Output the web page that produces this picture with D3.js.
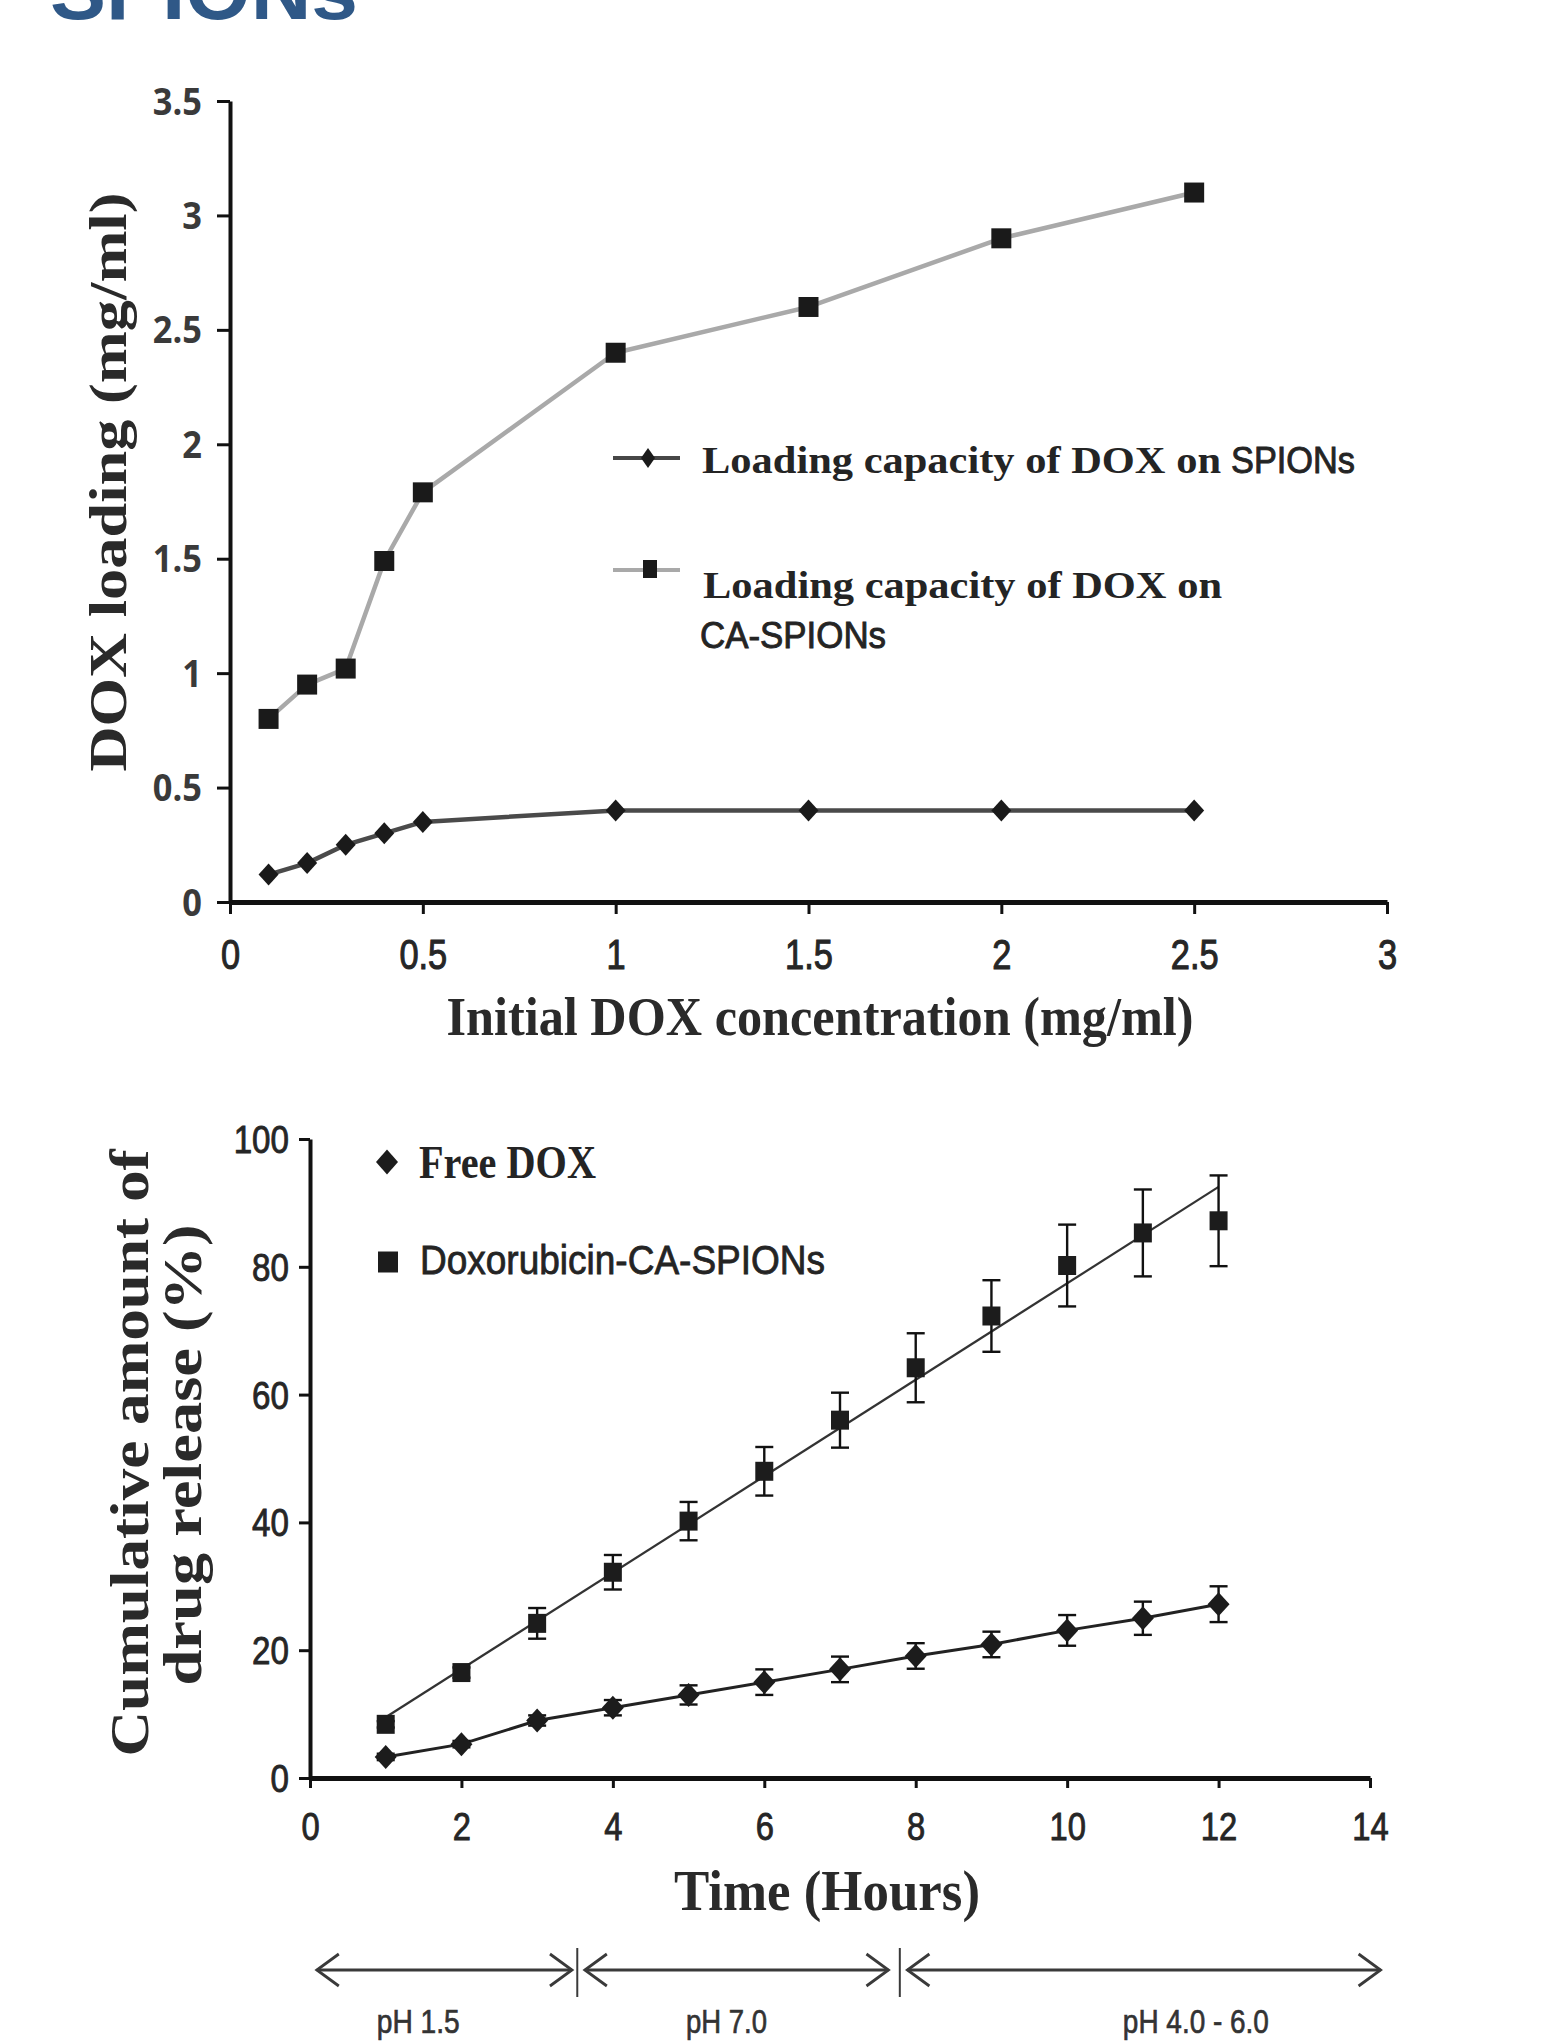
<!DOCTYPE html>
<html><head><meta charset="utf-8">
<script src="https://cdn.jsdelivr.net/npm/d3@7"></script>
<style>html,body{margin:0;padding:0;background:#fff;} svg{display:block;}</style>
</head><body><svg id="c" width="1562" height="2044"></svg>
<script>
// ---------------- DATA: top chart (DOX loading) ----------------
const concX = [0.1, 0.2, 0.3, 0.4, 0.5, 1, 1.5, 2, 2.5];
const loadSPIONs = [0.12, 0.17, 0.25, 0.30, 0.35, 0.40, 0.40, 0.40, 0.40];
const loadCASPIONs = [0.80, 0.95, 1.02, 1.49, 1.79, 2.40, 2.60, 2.90, 3.10];
const topXTicks = [0, 0.5, 1, 1.5, 2, 2.5, 3];
const topYTicks = [0, 0.5, 1, 1.5, 2, 2.5, 3, 3.5];
const topXTitle = "Initial DOX concentration (mg/ml)";
const topYTitle = "DOX loading (mg/ml)";
const topLegend1 = ["Loading capacity of DOX on", "SPIONs"];
const topLegend2 = ["Loading capacity of DOX on", "CA-SPIONs"];
const pageTitle = "SPIONs";

// ---------------- DATA: bottom chart (drug release) ----------------
const hours = [1, 2, 3, 4, 5, 6, 7, 8, 9, 10, 11, 12];
const freeDox = [3.3, 5.3, 9.0, 11.0, 13.0, 15.0, 17.0, 19.1, 20.9, 23.1, 25.0, 27.2];
const freeDoxErr = [0.5, 0.5, 0.8, 1.2, 1.5, 2.0, 2.0, 2.0, 2.0, 2.4, 2.6, 2.8];
const caDox = [8.4, 16.5, 24.2, 32.2, 40.2, 48.0, 56.0, 64.2, 72.3, 80.2, 85.3, 87.2];
const caDoxErr = [0.5, 0.8, 2.4, 2.7, 3.0, 3.8, 4.3, 5.4, 5.6, 6.4, 6.8, 7.1];
const caTrendT = [1, 12];          // trend line end points (hours)
const caTrendV = [9.5, 92.5];      // trend line end points (%)
const botXTicks = [0, 2, 4, 6, 8, 10, 12, 14];
const botYTicks = [0, 20, 40, 60, 80, 100];
const botXTitle = "Time (Hours)";
const botYTitle = ["Cumulative amount of", "drug release (%)"];
const botLegend = ["Free DOX", "Doxorubicin-CA-SPIONs"];
const phLabels = ["pH 1.5", "pH 7.0", "pH 4.0 - 6.0"];
const phFrom = [0.09, 3.63, 7.89];
const phTo = [3.46, 7.64, 14.14];
const phLabelAt = [1.43, 5.5, 11.7];
const phDividers = [3.53, 7.79];

// ---------------- helpers ----------------
const SERIF = "'Liberation Serif','Times New Roman',serif";
const SANS = "'Liberation Sans',Arial,sans-serif";
const OPEN = "'Open Sans','Liberation Sans',sans-serif";
const svg = d3.select("#c");

function label(g, str, x, y, o) {
  const t = g.append("text")
    .attr("transform", `translate(${x},${y})` + (o.rotate ? ` rotate(${o.rotate})` : ""))
    .attr("font-family", o.family).attr("font-size", o.size)
    .attr("font-weight", o.weight || "normal")
    .attr("fill", o.fill || "#242424")
    .attr("text-anchor", o.anchor || "start")
    .text(str);
  if (o.width) t.attr("textLength", o.width).attr("lengthAdjust", "spacingAndGlyphs");
  if (o.stroke) t.attr("stroke", o.fill || "#242424").attr("stroke-width", o.stroke);
  return t;
}
const diamond = (w, h) => ({ draw(ctx) { ctx.moveTo(0, -h); ctx.lineTo(w, 0); ctx.lineTo(0, h); ctx.lineTo(-w, 0); ctx.closePath(); } });
const square = (w, h) => ({ draw(ctx) { ctx.rect(-w, -h, 2 * w, 2 * h); } });

function styleAxis(g, domainW, tickW) {
  g.select(".domain").attr("stroke", "#111").attr("stroke-width", domainW);
  g.selectAll(".tick line").attr("stroke", "#111").attr("stroke-width", tickW);
}

// ---------------- page title (cut off at the top, as in the source) ----------------
label(svg, pageTitle, 50, 19, { family: SANS, size: 80, weight: "bold", fill: "#2f5887", width: 308 });

// ================= TOP CHART =================
const xT = d3.scaleLinear([0, 3], [230, 1387]);
const yT = d3.scaleLinear([0, 3.5], [902, 101]);
const gTop = svg.append("g");

const lineT = d3.line().x(d => xT(d[0])).y(d => yT(d[1]));
gTop.append("path").datum(d3.zip(concX, loadCASPIONs)).attr("d", lineT)
  .attr("fill", "none").attr("stroke", "#a9a9a9").attr("stroke-width", 4.5).attr("stroke-linejoin", "round");
gTop.append("path").datum(d3.zip(concX, loadSPIONs)).attr("d", lineT)
  .attr("fill", "none").attr("stroke", "#4a4a4a").attr("stroke-width", 4.5).attr("stroke-linejoin", "round");
gTop.selectAll(".sq").data(d3.zip(concX, loadCASPIONs)).join("path")
  .attr("d", d3.symbol(square(10, 10))()).attr("transform", d => `translate(${xT(d[0])},${yT(d[1])})`).attr("fill", "#1a1a1a");
gTop.selectAll(".dm").data(d3.zip(concX, loadSPIONs)).join("path")
  .attr("d", d3.symbol(diamond(10, 11))()).attr("transform", d => `translate(${xT(d[0])},${yT(d[1])})`).attr("fill", "#1a1a1a");

const gxT = gTop.append("g").attr("transform", `translate(0,${yT(0)})`)
  .call(d3.axisBottom(xT).tickValues(topXTicks).tickSize(12).tickSizeOuter(0).tickFormat(d => String(d)));
styleAxis(gxT, 5, 3);
gxT.selectAll(".tick text").attr("y", null).attr("dy", null)
  .attr("transform", "translate(0,67) scale(0.8,1)")
  .attr("font-family", SANS).attr("font-size", 43).attr("fill", "#262626")
  .attr("stroke", "#262626").attr("stroke-width", 1.1);
const gyT = gTop.append("g").attr("transform", `translate(${xT(0)},0)`)
  .call(d3.axisLeft(yT).tickValues(topYTicks).tickSize(13).tickSizeOuter(0).tickFormat(d => String(d)));
styleAxis(gyT, 4, 3);
gyT.selectAll(".tick text").attr("x", null).attr("dy", null)
  .attr("transform", "translate(-28,13) scale(0.93,1)")
  .attr("font-family", OPEN).attr("font-weight", 700).attr("font-size", 37).attr("fill", "#3a3a3a");

label(gTop, topXTitle, 820, 1035, { family: SERIF, size: 54, weight: "bold", anchor: "middle", width: 747, fill: "#2a2a2a" });
label(gTop, topYTitle, 126, 482, { family: SERIF, size: 52, weight: "bold", anchor: "middle", width: 579, rotate: -90, fill: "#2a2a2a" });

const lg = gTop.append("g");
lg.append("line").attr("x1", 613).attr("x2", 680).attr("y1", 458).attr("y2", 458).attr("stroke", "#474747").attr("stroke-width", 4);
lg.append("path").attr("d", d3.symbol(diamond(7, 10))()).attr("transform", "translate(648,458)").attr("fill", "#1a1a1a");
label(lg, topLegend1[0], 702, 473, { family: SERIF, size: 37, weight: "bold", width: 519 });
label(lg, topLegend1[1], 1231, 473, { family: SANS, size: 36, width: 124, stroke: 0.9 });
lg.append("line").attr("x1", 613).attr("x2", 680).attr("y1", 570).attr("y2", 570).attr("stroke", "#a9a9a9").attr("stroke-width", 4);
lg.append("path").attr("d", d3.symbol(square(7, 9))()).attr("transform", "translate(650,569)").attr("fill", "#1a1a1a");
label(lg, topLegend2[0], 703, 598, { family: SERIF, size: 37, weight: "bold", width: 519 });
label(lg, topLegend2[1], 700, 648, { family: SANS, size: 36, width: 186, stroke: 0.9 });

// ================= BOTTOM CHART =================
const xB = d3.scaleLinear([0, 14], [310, 1370]);
const yB = d3.scaleLinear([0, 100], [1778, 1139]);
const gBot = svg.append("g");

gBot.append("path").datum(d3.zip(caTrendT, caTrendV))
  .attr("d", d3.line().x(d => xB(d[0])).y(d => yB(d[1])))
  .attr("fill", "none").attr("stroke", "#333").attr("stroke-width", 2.2);
gBot.append("path").datum(d3.zip(hours, freeDox))
  .attr("d", d3.line().x(d => xB(d[0])).y(d => yB(d[1])))
  .attr("fill", "none").attr("stroke", "#222").attr("stroke-width", 3);

function errorBars(vals, errs) {
  const g = gBot.append("g").attr("stroke", "#111").attr("stroke-width", 2.4);
  const data = d3.zip(hours, vals, errs);
  g.selectAll(".v").data(data).join("line")
    .attr("x1", d => xB(d[0])).attr("x2", d => xB(d[0]))
    .attr("y1", d => yB(d[1] - d[2])).attr("y2", d => yB(d[1] + d[2]));
  g.selectAll(".t").data(data).join("line")
    .attr("x1", d => xB(d[0]) - 9).attr("x2", d => xB(d[0]) + 9)
    .attr("y1", d => yB(d[1] + d[2])).attr("y2", d => yB(d[1] + d[2]));
  g.selectAll(".b").data(data).join("line")
    .attr("x1", d => xB(d[0]) - 9).attr("x2", d => xB(d[0]) + 9)
    .attr("y1", d => yB(d[1] - d[2])).attr("y2", d => yB(d[1] - d[2]));
}
errorBars(caDox, caDoxErr);
errorBars(freeDox, freeDoxErr);

gBot.selectAll(".bsq").data(d3.zip(hours, caDox)).join("path")
  .attr("d", d3.symbol(square(9, 9.5))()).attr("transform", d => `translate(${xB(d[0])},${yB(d[1])})`).attr("fill", "#1c1c1c");
gBot.selectAll(".bdm").data(d3.zip(hours, freeDox)).join("path")
  .attr("d", d3.symbol(diamond(11, 12))()).attr("transform", d => `translate(${xB(d[0])},${yB(d[1])})`).attr("fill", "#1c1c1c");

const gxB = gBot.append("g").attr("transform", `translate(0,${yB(0)})`)
  .call(d3.axisBottom(xB).tickValues(botXTicks).tickSize(10).tickSizeOuter(0).tickFormat(d => String(d)));
styleAxis(gxB, 5, 3);
gxB.selectAll(".tick text").attr("y", null).attr("dy", null)
  .attr("transform", "translate(0,62) scale(0.84,1)")
  .attr("font-family", SANS).attr("font-size", 39).attr("fill", "#262626")
  .attr("stroke", "#262626").attr("stroke-width", 0.9);
const gyB = gBot.append("g").attr("transform", `translate(${xB(0)},0)`)
  .call(d3.axisLeft(yB).tickValues(botYTicks).tickSize(11).tickSizeOuter(0).tickFormat(d => String(d)));
styleAxis(gyB, 4, 3);
gyB.selectAll(".tick text").attr("x", null).attr("dy", null)
  .attr("transform", "translate(-21,13.5) scale(0.85,1)")
  .attr("font-family", SANS).attr("font-size", 39).attr("fill", "#262626")
  .attr("stroke", "#262626").attr("stroke-width", 0.9);

label(gBot, botXTitle, 827, 1910, { family: SERIF, size: 57, weight: "bold", anchor: "middle", width: 306, fill: "#2a2a2a" });
label(gBot, botYTitle[0], 148, 1453, { family: SERIF, size: 54, weight: "bold", anchor: "middle", width: 607, rotate: -90, fill: "#2a2a2a" });
label(gBot, botYTitle[1], 201, 1455, { family: SERIF, size: 54, weight: "bold", anchor: "middle", width: 461, rotate: -90, fill: "#2a2a2a" });

gBot.append("path").attr("d", d3.symbol(diamond(11, 12.5))()).attr("transform", "translate(387,1162)").attr("fill", "#1c1c1c");
label(gBot, botLegend[0], 419, 1178, { family: SERIF, size: 47, weight: "bold", width: 177 });
gBot.append("path").attr("d", d3.symbol(square(10, 10.5))()).attr("transform", "translate(388,1262)").attr("fill", "#1c1c1c");
label(gBot, botLegend[1], 420, 1274, { family: SANS, size: 40, width: 405, stroke: 0.8 });

const ph = gBot.append("g").attr("stroke", "#3a3a3a").attr("stroke-width", 2.8).attr("fill", "none");
const yArrow = 1970;
phLabels.forEach((lab, i) => {
  const a = xB(phFrom[i]), b = xB(phTo[i]);
  ph.append("line").attr("x1", a).attr("x2", b).attr("y1", yArrow).attr("y2", yArrow);
  ph.append("path").attr("d", `M${a + 22},${yArrow - 16} L${a},${yArrow} L${a + 22},${yArrow + 16}`);
  ph.append("path").attr("d", `M${b - 22},${yArrow - 16} L${b},${yArrow} L${b - 22},${yArrow + 16}`);
});
phDividers.forEach(d => {
  ph.append("line").attr("x1", xB(d)).attr("x2", xB(d)).attr("y1", 1948).attr("y2", 1997).attr("stroke-width", 2);
});
const phW = [83, 81, 146];
phLabels.forEach((lab, i) => {
  label(gBot, lab, xB(phLabelAt[i]), 2033, { family: SANS, size: 34, anchor: "middle", width: phW[i], fill: "#333", stroke: 0.7 });
});
</script></body></html>
